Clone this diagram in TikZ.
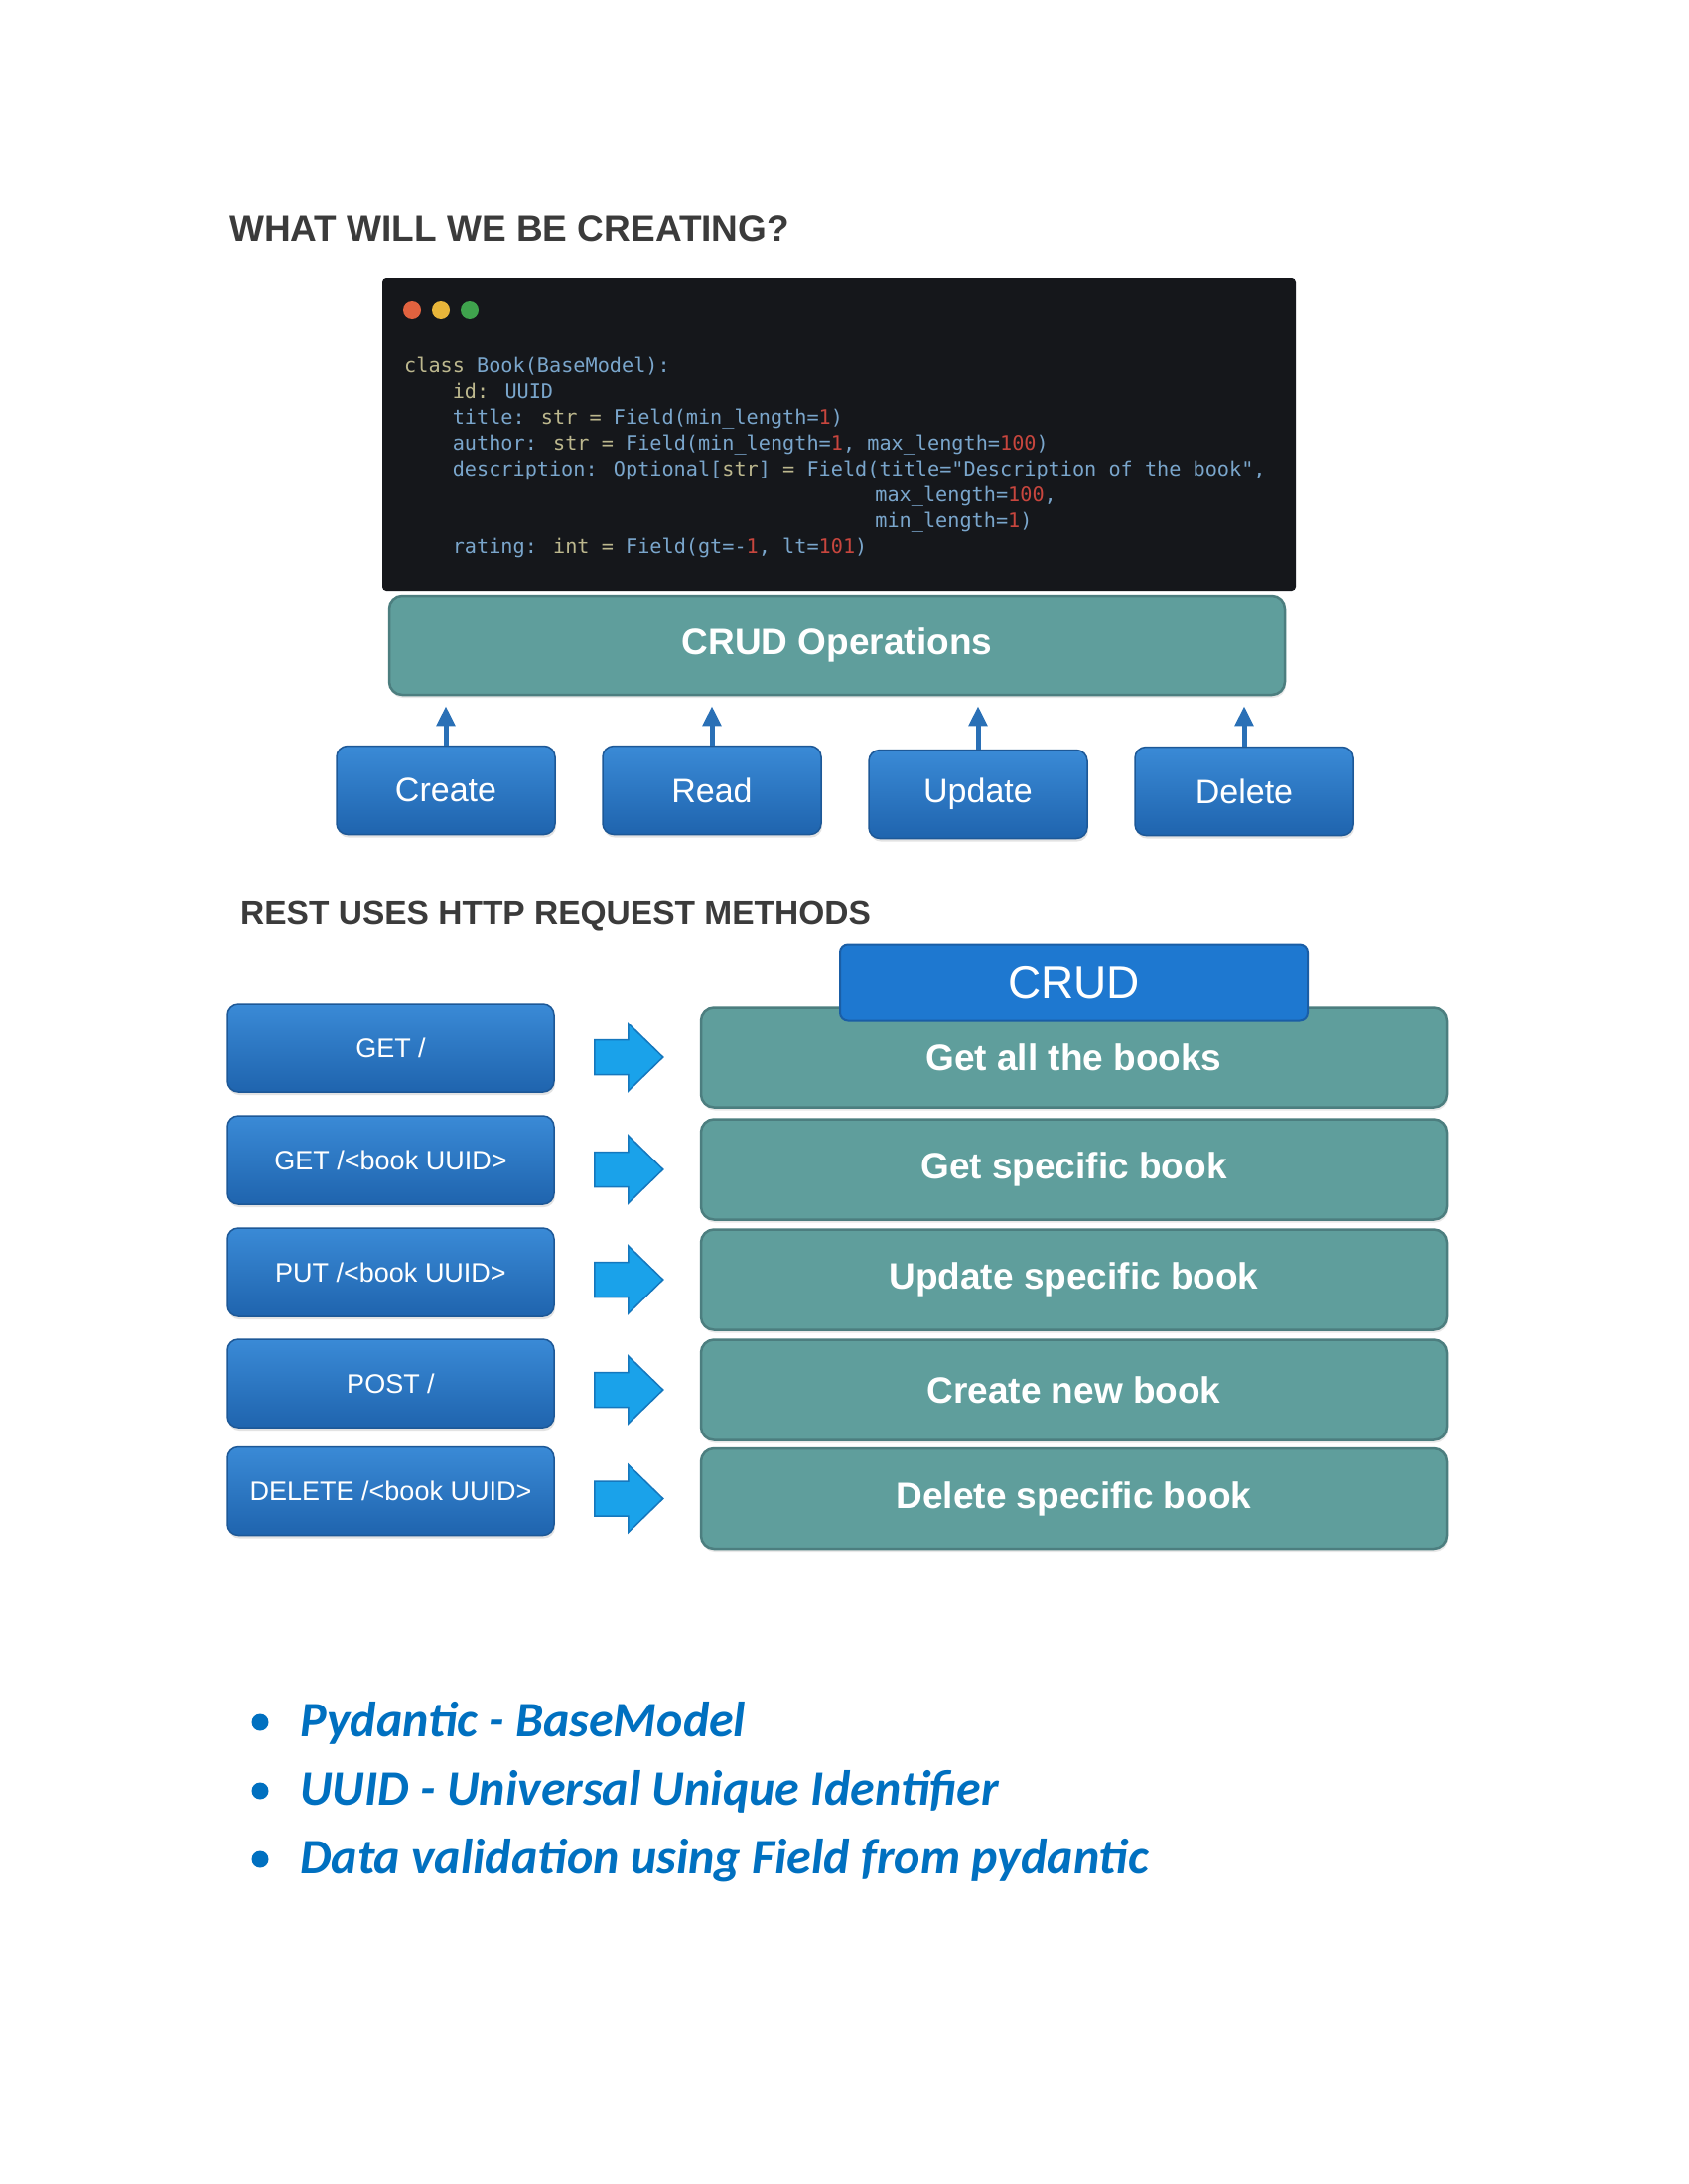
\documentclass[tikz,border=0pt]{standalone}
\usepackage{fontspec}
\setmainfont{Liberation Sans}
\newfontfamily\codefont{DejaVu Sans Mono}
\newfontfamily\bulletfont{Carlito}
\usetikzlibrary{arrows.meta,shadows}
\definecolor{tealfill}{HTML}{5F9E9C}
\definecolor{tealedge}{HTML}{4C7E7F}
\definecolor{btntop}{HTML}{3A8AD6}
\definecolor{btnbot}{HTML}{1F64AE}
\definecolor{btnedge}{HTML}{1D5897}
\definecolor{tabblue}{HTML}{1E78D0}
\definecolor{tabedge}{HTML}{1A5EA6}
\definecolor{arrowblue}{HTML}{2A70B6}
\definecolor{cyanfill}{HTML}{1AA2EA}
\definecolor{cyanedge}{HTML}{1577BD}
\definecolor{codebg}{HTML}{15171B}
\definecolor{titlegray}{HTML}{3B3B3B}
\definecolor{wordblue}{HTML}{0070C0}
\definecolor{cb}{HTML}{7AA6CC}
\definecolor{ck}{HTML}{BDB88E}
\definecolor{cr}{HTML}{C8463E}
\definecolor{dotred}{HTML}{E0623F}
\definecolor{dotyellow}{HTML}{E8B53A}
\definecolor{dotgreen}{HTML}{3FA34D}
\tikzset{
  heading/.style={anchor=base west, inner sep=0pt, text=titlegray,
    font=\fontsize{35pt}{40pt}\selectfont\bfseries},
  codeline/.style={anchor=base west, inner sep=0pt, text=cb,
    font=\codefont\fontsize{20.2pt}{24pt}\selectfont},
  tealbox/.style={draw=tealedge, line width=2.5pt, fill=tealfill, rounded corners=13pt,
    inner sep=0pt, text=white, drop shadow={opacity=0.18, shadow xshift=1pt, shadow yshift=-3pt},
    font=\fontsize{37pt}{42pt}\selectfont\bfseries},
  bluebtn/.style={draw=btnedge, line width=1.5pt, top color=btntop, bottom color=btnbot,
    rounded corners=11pt, inner sep=0pt, text=white,
    drop shadow={opacity=0.22, shadow xshift=1pt, shadow yshift=-3pt}},
  opbtn/.style={bluebtn, minimum width=220pt, minimum height=89pt,
    font=\fontsize{34pt}{38pt}\selectfont},
  methodbtn/.style={bluebtn, minimum width=329pt, minimum height=89pt,
    font=\fontsize{27pt}{32pt}\selectfont},
  uparr/.style={draw=arrowblue, line width=5pt, shorten >=10pt,
    -{Triangle[width=18pt,length=20pt]}},
  blockarr/.style={draw=cyanedge, line width=1.5pt, fill=cyanfill, line join=miter},
  bullettext/.style={anchor=base west, inner sep=0pt, text=wordblue,
    font=\bulletfont\fontsize{50pt}{56pt}\selectfont\bfseries\itshape},
  bulletdot/.style={circle, fill=wordblue, minimum size=17pt, inner sep=0pt},
  wdot/.style={circle, minimum size=18pt, inner sep=0pt}
}
\begin{document}
\begin{tikzpicture}[x=1pt,y=-1pt]
\useasboundingbox (0,0) rectangle (1700,2200);
\fill[white] (0,0) rectangle (1700,2200);

% ---------- first heading
\node[heading, font=\fontsize{37pt}{42pt}\selectfont\bfseries] (h1) at (231,243) {WHAT WILL WE BE CREATING?};

% ---------- code window
\node[fill=codebg, rounded corners=4pt, minimum width=920pt, minimum height=315pt, inner sep=0pt]
  (code) at (845,437.5) {};
\node[wdot, fill=dotred] (d1) at (415,312) {};
\node[wdot, fill=dotyellow] (d2) at (444,312) {};
\node[wdot, fill=dotgreen] (d3) at (473,312) {};

\node[codeline] (c1) at (407,375) {\textcolor{ck}{class} Book(BaseModel):};
\node[codeline] (c2) at (455.6,401) {\textcolor{ck}{id:} UUID};
\node[codeline] (c3) at (455.6,427) {title: \textcolor{ck}{str =} Field(min\_length=\textcolor{cr}{1})};
\node[codeline] (c4) at (455.6,453) {author: \textcolor{ck}{str =} Field(min\_length=\textcolor{cr}{1}, max\_length=\textcolor{cr}{100})};
\node[codeline] (c5) at (455.6,479) {description: Optional[\textcolor{ck}{str}] \textcolor{ck}{=} Field(title="Description of the book",};
\node[codeline] (c6) at (881.2,505) {max\_length=\textcolor{cr}{100},};
\node[codeline] (c7) at (881.2,531) {min\_length=\textcolor{cr}{1})};
\node[codeline] (c8) at (455.6,557) {rating: \textcolor{ck}{int =} Field(gt=-\textcolor{cr}{1}, lt=\textcolor{cr}{101})};

% ---------- CRUD operations
\node[tealbox, minimum width=902pt, minimum height=100pt] (ops) at (843,650) {CRUD Operations};

\node[opbtn] (create) at (449,796) {Create};
\node[opbtn] (read)   at (717,796) {Read};
\node[opbtn] (update) at (985,800) {Update};
\node[opbtn] (delete) at (1253,797) {Delete};

\draw[uparr] (create.north) -- (create.north |- ops.south);
\draw[uparr] (read.north)   -- (read.north |- ops.south);
\draw[uparr] (update.north) -- (update.north |- ops.south);
\draw[uparr] (delete.north) -- (delete.north |- ops.south);

% ---------- second heading
\node[heading, font=\fontsize{33.5pt}{40pt}\selectfont\bfseries] (h2) at (242,931) {REST USES HTTP REQUEST METHODS};

% ---------- CRUD table
\node[tealbox, minimum width=751pt, minimum height=101pt] (r1) at (1081.5,1065) {Get all the books};
\node[tealbox, minimum width=751pt, minimum height=101pt] (r2) at (1081.5,1178) {Get specific book};
\node[tealbox, minimum width=751pt, minimum height=101pt] (r3) at (1081.5,1289) {Update specific book};
\node[tealbox, minimum width=751pt, minimum height=101pt] (r4) at (1081.5,1400) {Create new book};
\node[tealbox, minimum width=751pt, minimum height=101pt] (r5) at (1081.5,1509.5) {Delete specific book};

\node[draw=tabedge, line width=2pt, fill=tabblue, rounded corners=8pt, inner sep=0pt,
  minimum width=471pt, minimum height=76pt, text=white,
  font=\fontsize{46pt}{50pt}\selectfont] (tab) at (1081.5,989.5) {CRUD};

\node[methodbtn] (m1) at (393.5,1055.5) {GET /};
\node[methodbtn] (m2) at (393.5,1168.5) {GET /<book UUID>};
\node[methodbtn] (m3) at (393.5,1281.5) {PUT /<book UUID>};
\node[methodbtn] (m4) at (393.5,1393.5) {POST /};
\node[methodbtn] (m5) at (393.5,1502) {DELETE /<book UUID>};

% ---------- block arrows between method and CRUD boxes
\foreach \i in {1,...,5}{
  \coordinate (ab\i) at ([xshift=40pt]m\i.east |- r\i.center);
  \draw[blockarr] (ab\i) ++(0,-17.5) -- ++(34,0) -- ++(0,-16.5) -- ++(35,34)
    -- ++(-35,34) -- ++(0,-16.5) -- ++(-34,0) -- cycle;
}

% ---------- bullet list
\node[bulletdot] (p1) at (262,1735) {};
\node[bulletdot] (p2) at (262,1804) {};
\node[bulletdot] (p3) at (262,1873) {};
\node[bullettext] (t1) at (302,1749) {Pydantic - BaseModel};
\node[bullettext] (t2) at (302,1818) {UUID - Universal Unique Identifier};
\node[bullettext] (t3) at (302,1887) {Data validation using Field from pydantic};
\end{tikzpicture}
\end{document}
